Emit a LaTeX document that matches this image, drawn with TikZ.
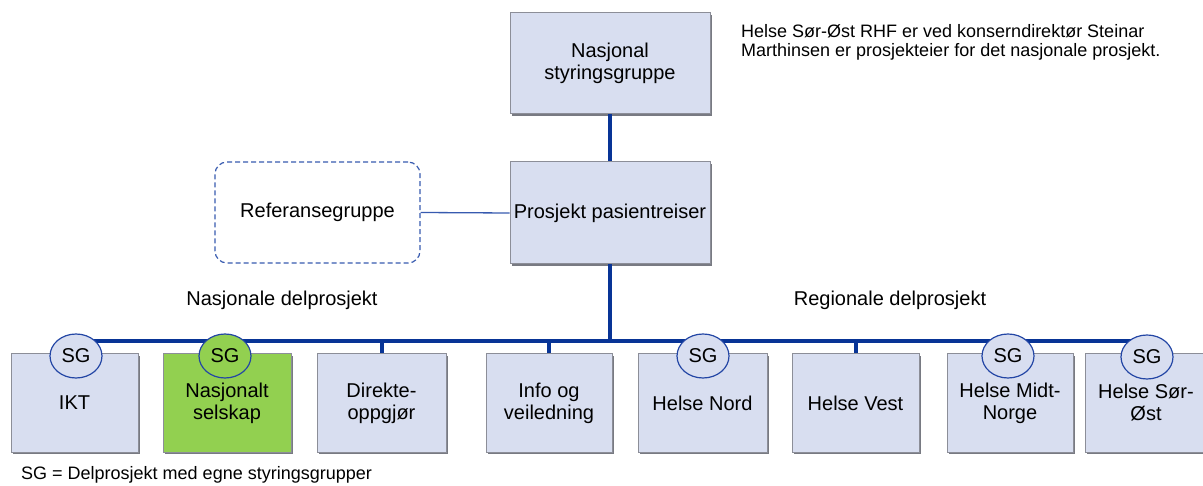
\documentclass[tikz,border=0pt]{standalone}
\usepackage{fontspec}
\setmainfont{Liberation Sans}
\usetikzlibrary{shadows,shapes.geometric}
\definecolor{boxfill}{RGB}{216,222,240}
\definecolor{boxborder}{RGB}{140,142,152}
\definecolor{boxshadow}{RGB}{120,122,130}
\definecolor{greenfill}{RGB}{146,208,80}
\definecolor{busblue}{RGB}{8,52,150}
\definecolor{sgblue}{RGB}{35,70,165}
\definecolor{refblue}{RGB}{55,90,175}
\tikzset{
  orgbox/.style={rectangle, draw=boxborder, line width=1pt, fill=boxfill, inner sep=0pt,
    align=center, font=\fontsize{20}{22}\selectfont,
    drop shadow={shadow xshift=1.5pt, shadow yshift=-2pt, opacity=1, fill=boxshadow}},
  sgnode/.style={ellipse, draw=sgblue, line width=1.2pt, fill=boxfill, inner sep=0pt,
    minimum width=52pt, minimum height=44pt, font=\fontsize{20}{22}\selectfont},
  bus/.style={draw=busblue, line width=4pt},
  branch/.style={draw=busblue, line width=4pt},
  lbl/.style={inner sep=0pt, font=\fontsize{20}{22}\selectfont},
  small/.style={inner sep=0pt, font=\fontsize{18}{19.5}\selectfont, align=left}
}
\begin{document}
\begin{tikzpicture}[x=1pt,y=-1pt]
\useasboundingbox (0,0) rectangle (1203,486);
% top boxes
\node[orgbox, minimum width=200pt, minimum height=101pt] (nsg) at (610,63.5) {Nasjonal\\styringsgruppe};
\node[orgbox, minimum width=200pt, minimum height=102pt] (pp) at (610,213) {Prosjekt pasientreiser};
\node[rectangle, rounded corners=12pt, draw=refblue, dash pattern=on 5pt off 3pt, line width=1.2pt,
  minimum width=205pt, minimum height=101pt, inner sep=0pt, font=\fontsize{20}{22}\selectfont] (ref) at (317.5,212.5) {Referansegruppe};
\node[small, anchor=north west] (note) at (741,24) {Helse Sør-Øst RHF er ved konserndirektør Steinar\\Marthinsen er prosjekteier for det nasjonale prosjekt.};
% labels
\node[lbl] (lnas) at (282,300) {Nasjonale delprosjekt};
\node[lbl] (lreg) at (890,300) {Regionale delprosjekt};
\node[small, anchor=west] (foot) at (21,475) {SG = Delprosjekt med egne styringsgrupper};
% bottom boxes
\node[orgbox, minimum width=127pt, minimum height=98pt] (ikt) at (74.5,403) {IKT};
\node[orgbox, minimum width=128pt, minimum height=98pt, fill=greenfill] (ns) at (227,403) {Nasjonalt\\selskap};
\node[orgbox, minimum width=129pt, minimum height=98pt] (dir) at (381.5,403) {Direkte-\\oppgjør};
\node[orgbox, minimum width=126pt, minimum height=98pt] (info) at (549,403) {Info og\\veiledning};
\node[orgbox, minimum width=129pt, minimum height=98pt] (nord) at (702.5,403) {Helse Nord};
\node[orgbox, minimum width=127pt, minimum height=98pt] (vest) at (855.5,403) {Helse Vest};
\node[orgbox, minimum width=126pt, minimum height=98pt] (midt) at (1010,403) {Helse Midt-\\Norge};
\node[orgbox, minimum width=122pt, minimum height=98pt] (sor) at (1146,403) {Helse Sør-\\Øst};
% connectors
\coordinate (busL) at (76,341);
\coordinate (busR) at (1147,341);
\path[bus] (busL) -- (busR);
\path[branch] (nsg.south) -- (pp.north);
\path[branch] (pp.south) -- (pp.south |- busL);
\path[branch] (dir.north |- busL) -- (dir.north);
\path[branch] (info.north |- busL) -- (info.north);
\path[branch] (vest.north |- busL) -- (vest.north);
\draw[refblue, line width=1.3pt] (ref.east) -- (pp.west);
% SG markers
\node[sgnode] (sg1) at (76,356) {SG};
\node[sgnode, fill=greenfill] (sg2) at (225,356) {SG};
\node[sgnode] (sg3) at (703,356) {SG};
\node[sgnode] (sg4) at (1008,356) {SG};
\node[sgnode] (sg5) at (1147,357) {SG};
\end{tikzpicture}
\end{document}
